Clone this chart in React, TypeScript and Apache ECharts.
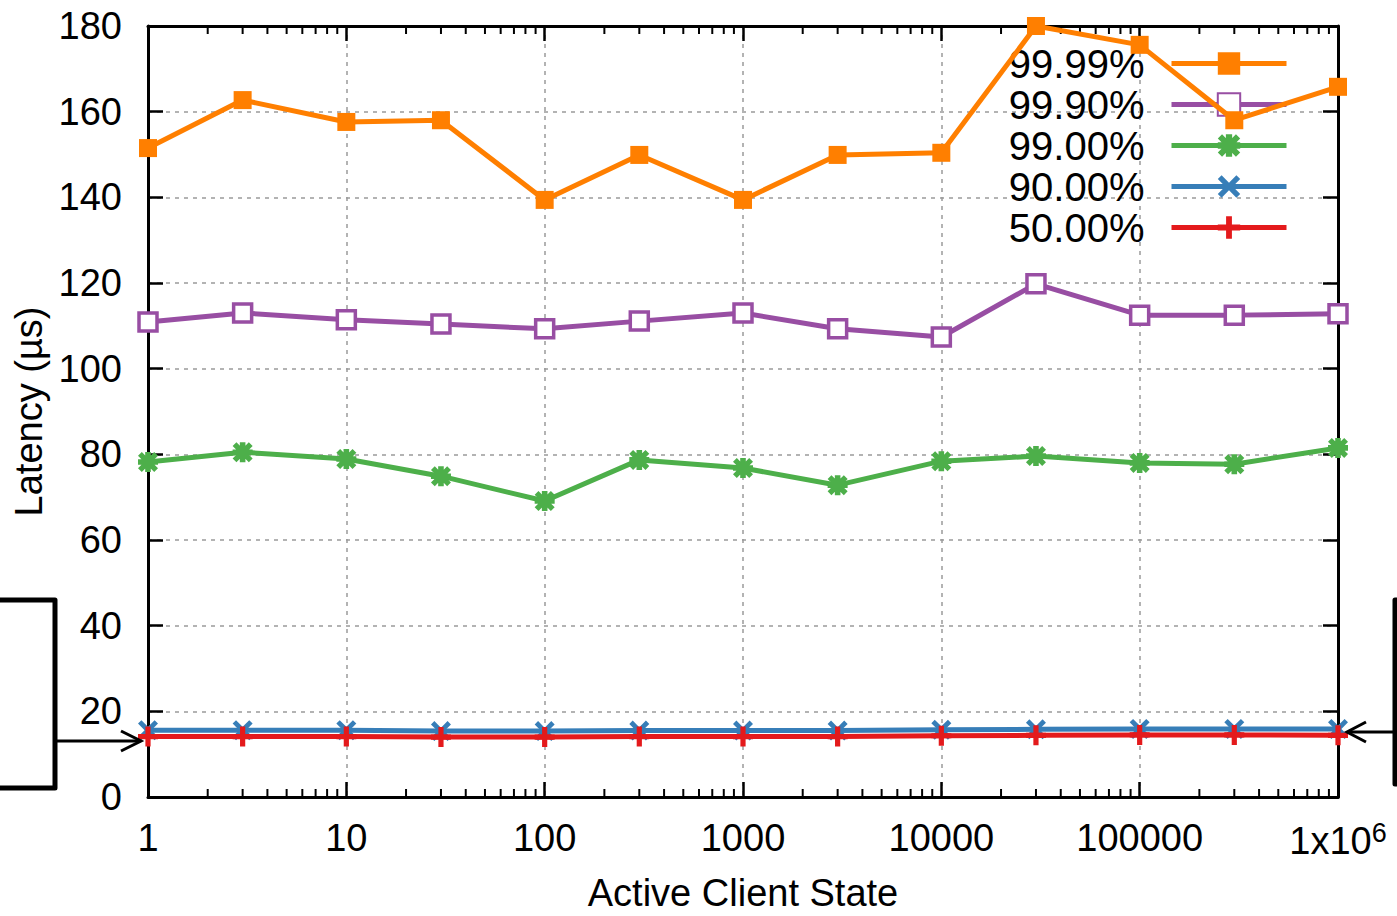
import React, { useEffect, useRef } from "react";
import * as echarts from "echarts";

// ---- data ----
const xValues = [1, 3, 10, 30, 100, 300, 1000, 3000, 10000, 30000, 100000, 300000, 1000000];
const p9999 = [151.5, 162.7, 157.6, 158.0, 139.4, 149.9, 139.4, 149.9, 150.4, 180.0, 175.6, 158.0, 165.8];
const p9990 = [110.9, 113.0, 111.4, 110.4, 109.3, 111.1, 113.0, 109.3, 107.4, 119.8, 112.5, 112.5, 112.8];
const p9900 = [78.2, 80.5, 78.9, 74.9, 69.1, 78.7, 76.8, 72.8, 78.4, 79.6, 78.0, 77.7, 81.5];
const p9000 = [15.6, 15.6, 15.6, 15.4, 15.4, 15.5, 15.5, 15.5, 15.7, 15.8, 15.9, 15.9, 15.9];
const p5000 = [14.1, 14.1, 14.1, 14.0, 14.0, 14.1, 14.1, 14.1, 14.3, 14.4, 14.5, 14.5, 14.4];
const seriesNames = ["99.99%", "99.90%", "99.00%", "90.00%", "50.00%"];
const yTickMin = 0;
const yTickMax = 180;
const yTickStep = 20;
const xMin = 1;
const xMax = 1000000;
const minorDecades = [1, 10, 100, 1000, 10000, 100000];
const minorMultipliers = [2, 3, 4, 5, 6, 7, 8, 9];
const xAxisTitle = "Active Client State";
const yAxisTitle = "Latency (µs)";

const FONT = '"Liberation Sans", Arial, Helvetica, sans-serif';
const COLORS = ["#ff7f00", "#984ea3", "#4daf4a", "#377eb8", "#e41a1c"];

const SYM_X = "path://M0,1.7L1.7,0L5,3.3L8.3,0L10,1.7L6.7,5L10,8.3L8.3,10L5,6.7L1.7,10L0,8.3L3.3,5Z";
const SYM_PLUS = "path://M3.7,0H6.3V3.7H10V6.3H6.3V10H3.7V6.3H0V3.7H3.7Z";
const SYM_STAR =
  "path://M0,1.9L1.9,0L5,3.1L8.1,0L10,1.9L6.9,5L10,8.1L8.1,10L5,6.9L1.9,10L0,8.1L3.1,5Z" +
  "M3.6,0H6.4V3.6H10V6.4H6.4V10H3.6V6.4H0V3.6H3.6Z";

const W = 1397;
const H = 916;

export default function App() {
  const ref = useRef<HTMLDivElement>(null);

  useEffect(() => {
    document.body.style.margin = "0";
    if (!ref.current) return;
    const chart = echarts.init(ref.current, null, { renderer: "svg", width: W, height: H });

    const minorTicks: number[][] = [];
    minorDecades.forEach((d) => minorMultipliers.forEach((m) => minorTicks.push([d * m, 0])));

    const lineSeries = (name: string, vals: number[], idx: number, symbol: string, size: number, itemStyle: any) => ({
      name,
      type: "line",
      xAxisIndex: 0,
      yAxisIndex: 0,
      data: xValues.map((x, i) => [x, vals[i]]),
      symbol,
      symbolSize: size,
      showAllSymbol: true,
      lineStyle: { color: COLORS[idx], width: 5 },
      itemStyle,
      z: 10 + idx,
      clip: false,
    });

    const axisLineStyle = { color: "#000", width: 3 };
    const tickStyle = { color: "#000", width: 2.5 };
    const gridLine = { show: true, lineStyle: { color: "#9a9a9a", width: 1.5, type: [4, 5] } };

    const option: any = {
      animation: false,
      backgroundColor: "#fff",
      grid: { left: 148, right: 59, top: 26, bottom: 119, containLabel: false, outerBoundsMode: "none" },
      xAxis: [
        {
          type: "log",
          logBase: 10,
          min: xMin,
          max: xMax,
          position: "bottom",
          name: xAxisTitle,
          nameLocation: "middle",
          nameGap: 77,
          nameTextStyle: { fontSize: 38, fontFamily: FONT, color: "#000" },
          axisLine: { show: true, onZero: false, lineStyle: axisLineStyle },
          axisTick: { show: true, inside: true, length: 15, lineStyle: tickStyle },
          axisLabel: {
            show: true,
            margin: 22,
            showMinLabel: true,
            showMaxLabel: true,
            fontSize: 38,
            fontFamily: FONT,
            color: "#000",
            formatter: (v: number) => {
              const r = Math.round(v);
              return r === 1000000 ? "{a|1x10}{s|6}" : String(r);
            },
            rich: {
              a: { fontSize: 38, fontFamily: FONT, color: "#000", lineHeight: 44 },
              s: { fontSize: 27, fontFamily: FONT, color: "#000", lineHeight: 26, verticalAlign: "top" },
            },
          },
          splitLine: gridLine,
          minorTick: { show: false },
        },
        {
          type: "log",
          logBase: 10,
          min: xMin,
          max: xMax,
          position: "top",
          axisLine: { show: true, onZero: false, lineStyle: axisLineStyle },
          axisTick: { show: true, inside: true, length: 15, lineStyle: tickStyle },
          axisLabel: { show: false },
          splitLine: { show: false },
        },
      ],
      yAxis: [
        {
          type: "value",
          min: yTickMin,
          max: yTickMax,
          interval: yTickStep,
          position: "left",
          name: yAxisTitle,
          nameLocation: "middle",
          nameGap: 98,
          nameTextStyle: { fontSize: 38, fontFamily: FONT, color: "#000" },
          axisLine: { show: true, onZero: false, lineStyle: axisLineStyle },
          axisTick: { show: true, inside: true, length: 15, lineStyle: tickStyle },
          axisLabel: { show: true, margin: 26, fontSize: 38, fontFamily: FONT, color: "#000" },
          splitLine: gridLine,
        },
        {
          type: "value",
          min: yTickMin,
          max: yTickMax,
          interval: yTickStep,
          position: "right",
          axisLine: { show: true, onZero: false, lineStyle: axisLineStyle },
          axisTick: { show: true, inside: true, length: 15, lineStyle: tickStyle },
          axisLabel: { show: false },
          splitLine: { show: false },
        },
      ],
      legend: {
        data: seriesNames,
        orient: "vertical",
        right: 103,
        top: 38,
        align: "right",
        itemWidth: 115,
        itemHeight: 28,
        itemGap: 0,
        selectedMode: false,
        lineStyle: { width: 5 },
        textStyle: { fontSize: 40, fontFamily: FONT, color: "#000", lineHeight: 41, padding: [0, 22, 0, 0] },
      },
      series: [
        {
          type: "custom",
          xAxisIndex: 0,
          yAxisIndex: 0,
          silent: true,
          clip: false,
          z: 3,
          data: minorTicks,
          renderItem: (params: any, api: any) => {
            const x = api.coord([api.value(0), 0])[0];
            const cs = params.coordSys;
            const bottom = cs.y + cs.height;
            const style = { stroke: "#000", lineWidth: 2 };
            return {
              type: "group",
              children: [
                { type: "line", shape: { x1: x, y1: bottom, x2: x, y2: bottom - 8 }, style },
                { type: "line", shape: { x1: x, y1: cs.y, x2: x, y2: cs.y + 8 }, style },
              ],
            };
          },
        },
        lineSeries(seriesNames[0], p9999, 0, "rect", 18, { color: COLORS[0] }),
        lineSeries(seriesNames[1], p9990, 1, "rect", 18, { color: "#ffffff", borderColor: COLORS[1], borderWidth: 3.5 }),
        lineSeries(seriesNames[2], p9900, 2, SYM_STAR, 20, { color: COLORS[2] }),
        lineSeries(seriesNames[3], p9000, 3, SYM_X, 20, { color: COLORS[3] }),
        lineSeries(seriesNames[4], p5000, 4, SYM_PLUS, 20, { color: COLORS[4] }),
      ],
      graphic: [
        {
          type: "polyline",
          shape: { points: [[-5, 600], [55, 600], [55, 788], [-5, 788]] },
          style: { stroke: "#000", lineWidth: 5, fill: "none", lineJoin: "round" },
          z: 100,
        },
        {
          type: "line",
          shape: { x1: 55, y1: 741, x2: 140, y2: 741 },
          style: { stroke: "#000", lineWidth: 3 },
          z: 100,
        },
        {
          type: "polyline",
          shape: { points: [[121, 731], [141, 741], [121, 751]] },
          style: { stroke: "#000", lineWidth: 3, fill: "none" },
          z: 100,
        },
        {
          type: "polyline",
          shape: { points: [[1405, 600], [1395, 600], [1395, 784], [1405, 784]] },
          style: { stroke: "#000", lineWidth: 5, fill: "none", lineJoin: "round" },
          z: 100,
        },
        {
          type: "line",
          shape: { x1: 1395, y1: 732, x2: 1348, y2: 732 },
          style: { stroke: "#000", lineWidth: 3 },
          z: 100,
        },
        {
          type: "polyline",
          shape: { points: [[1366, 722], [1347, 732], [1366, 742]] },
          style: { stroke: "#000", lineWidth: 3, fill: "none" },
          z: 100,
        },
      ],
    };

    chart.setOption(option);
    return () => chart.dispose();
  }, []);

  return <div ref={ref} style={{ width: W, height: H }} />;
}
